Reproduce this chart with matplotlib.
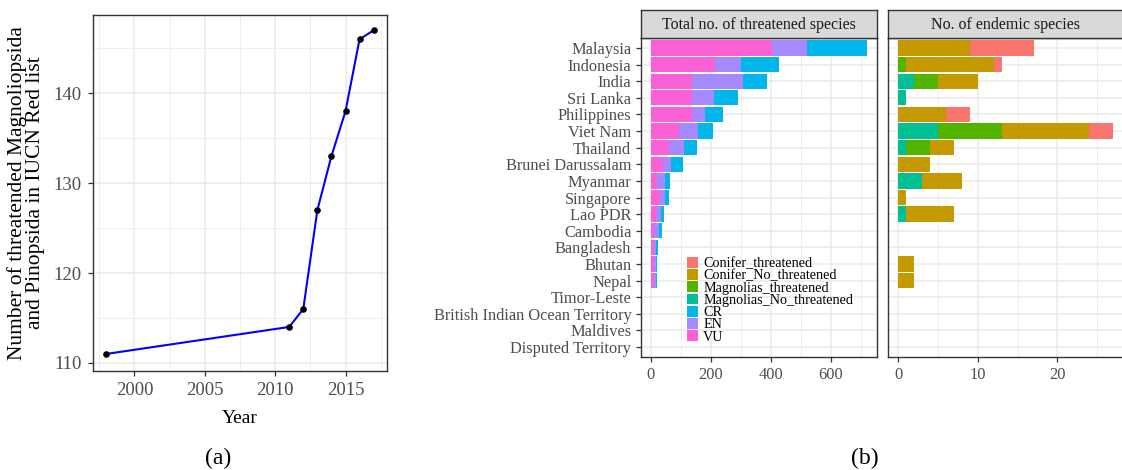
import numpy as np
import matplotlib
matplotlib.use("Agg")
import matplotlib.pyplot as plt
from matplotlib.patches import Patch

plt.rcParams['font.family'] = ['Liberation Serif', 'DejaVu Serif']

# panel (a) data
years = [1998, 2011, 2012, 2013, 2014, 2015, 2016, 2017]
n_threat = [111, 114, 116, 127, 133, 138, 146, 147]

# panel (b) data
countries = ["Malaysia", "Indonesia", "India", "Sri Lanka", "Philippines", "Viet Nam",
             "Thailand", "Brunei Darussalam", "Myanmar", "Singapore", "Lao PDR", "Cambodia",
             "Bangladesh", "Bhutan", "Nepal", "Timor-Leste", "British Indian Ocean Territory",
             "Maldives", "Disputed Territory"]
vu = [403, 214, 137, 137, 137, 94, 61, 41, 21, 30, 17, 10, 11, 10, 10, 0, 2, 0, 0]
en = [118, 87, 171, 73, 44, 63, 49, 27, 27, 18, 17, 18, 7, 7, 7, 2, 0, 0, 0]
cr = [200, 127, 80, 81, 60, 51, 44, 40, 15, 13, 9, 10, 5, 3, 3, 0, 0, 0, 0]

mag_no = [0, 0, 2, 1, 0, 5, 1, 0, 3, 0, 1, 0, 0, 0, 0, 0, 0, 0, 0]
mag_thr = [0, 1, 3, 0, 0, 8, 3, 0, 0, 0, 0, 0, 0, 0, 0, 0, 0, 0, 0]
con_no = [9, 11, 5, 0, 6, 11, 3, 4, 5, 1, 6, 0, 0, 2, 2, 0, 0, 0, 0]
con_thr = [8, 1, 0, 0, 3, 3, 0, 0, 0, 0, 0, 0, 0, 0, 0, 0, 0, 0, 0]

legend_labels = ["Conifer_threatened", "Conifer_No_threatened", "Magnolias_threatened",
                 "Magnolias_No_threatened", "CR", "EN", "VU"]
colors = ["#F8766D", "#C49A00", "#53B400", "#00C094", "#00B6EB", "#A58AFF", "#FB61D7"]
col = dict(zip(legend_labels, colors))

grid_c = "#EBEBEB"
border_c = "#333333"
text_c = "#4D4D4D"


def style_ax(ax, fs, pad=3.5):
    for s in ax.spines.values():
        s.set_color(border_c)
        s.set_linewidth(1.0)
    ax.tick_params(which='major', length=3.5, width=0.9, color=border_c,
                   labelcolor=text_c, labelsize=fs, pad=pad)
    ax.tick_params(which='minor', length=0)
    ax.grid(True, which='major', color=grid_c, lw=1.1)
    ax.grid(True, which='minor', color=grid_c, lw=0.6)
    ax.set_axisbelow(True)


fig = plt.figure(figsize=(11.22, 4.7), dpi=100)

# ---- panel (a)
ax1 = fig.add_axes([93 / 1122, 1 - 371 / 470, 294 / 1122, 356 / 470])
ax1.plot(years, n_threat, color="#0000FF", lw=1.5, zorder=2)
ax1.scatter(years, n_threat, color="black", s=14, zorder=3)
ax1.set_xlim(1997.05, 2017.95)
ax1.set_ylim(109.1, 148.7)
ax1.set_xticks([2000, 2005, 2010, 2015])
ax1.set_xticks([1997.5, 2002.5, 2007.5, 2012.5, 2017.5], minor=True)
ax1.set_yticks([110, 120, 130, 140])
ax1.set_yticks([115, 125, 135, 145], minor=True)
style_ax(ax1, 13.5, pad=4.5)
ax1.set_xlabel("Year", fontsize=14, color="black", labelpad=8)
ax1.set_ylabel("Number of threatended Magnoliopsida\nand Pinopsida in IUCN Red list",
               fontsize=15.5, color="black", linespacing=0.95, labelpad=6)

# ---- panel (b) left
y = np.arange(len(countries))
h = 0.92
ax2 = fig.add_axes([641 / 1122, 1 - 357 / 470, 236 / 1122, 319 / 470])
left = np.zeros(len(countries))
for vals, name in [(vu, "VU"), (en, "EN"), (cr, "CR")]:
    ax2.barh(y, vals, left=left, height=h, color=col[name], lw=0)
    left += np.array(vals)
ax2.set_ylim(len(countries) - 0.4, -0.6)
ax2.set_xlim(-32, 754)
ax2.set_yticks(y)
ax2.set_yticklabels(countries)
ax2.set_xticks([0, 200, 400, 600])
ax2.set_xticks([100, 300, 500, 700], minor=True)
style_ax(ax2, 11.8)

# ---- panel (b) right
ax3 = fig.add_axes([887.5 / 1122, 1 - 357 / 470, 236 / 1122, 319 / 470])
left = np.zeros(len(countries))
for vals, name in [(mag_no, "Magnolias_No_threatened"), (mag_thr, "Magnolias_threatened"),
                   (con_no, "Conifer_No_threatened"), (con_thr, "Conifer_threatened")]:
    ax3.barh(y, vals, left=left, height=h, color=col[name], lw=0)
    left += np.array(vals)
ax3.set_ylim(len(countries) - 0.4, -0.6)
ax3.set_xlim(-1.35, 28.3)
ax3.set_yticks(y)
ax3.set_yticklabels([])
ax3.set_xticks([0, 10, 20])
ax3.set_xticks([5, 15, 25], minor=True)
style_ax(ax3, 11.8)
ax3.tick_params(axis='y', length=0)

# strips
for x0, w, txt in [(641, 236, "Total no. of threatened species"),
                   (887.5, 236, "No. of endemic species")]:
    sax = fig.add_axes([x0 / 1122, 1 - 38 / 470, w / 1122, 28 / 470])
    sax.set_facecolor("#D9D9D9")
    sax.set_xticks([])
    sax.set_yticks([])
    for s in sax.spines.values():
        s.set_color(border_c)
        s.set_linewidth(1.0)
    sax.text(0.5, 0.45, txt, ha='center', va='center', fontsize=11.5,
             color="#1A1A1A", transform=sax.transAxes)

# legend
handles = [Patch(facecolor=c, edgecolor='none', label=l) for l, c in zip(legend_labels, colors)]
leg = fig.legend(handles=handles, loc='upper left', bbox_to_anchor=(687 / 1122, 1 - 257 / 470),
                 frameon=False, fontsize=10.2, handlelength=0.8, handleheight=0.8,
                 handletextpad=0.35, labelspacing=-0.08, borderpad=0, borderaxespad=0)

fig.text(218 / 1122, 1 - 458 / 470, "(a)", ha='center', va='center', fontsize=17)
fig.text(865 / 1122, 1 - 458 / 470, "(b)", ha='center', va='center', fontsize=17)

fig.savefig("out.png", dpi=100)
